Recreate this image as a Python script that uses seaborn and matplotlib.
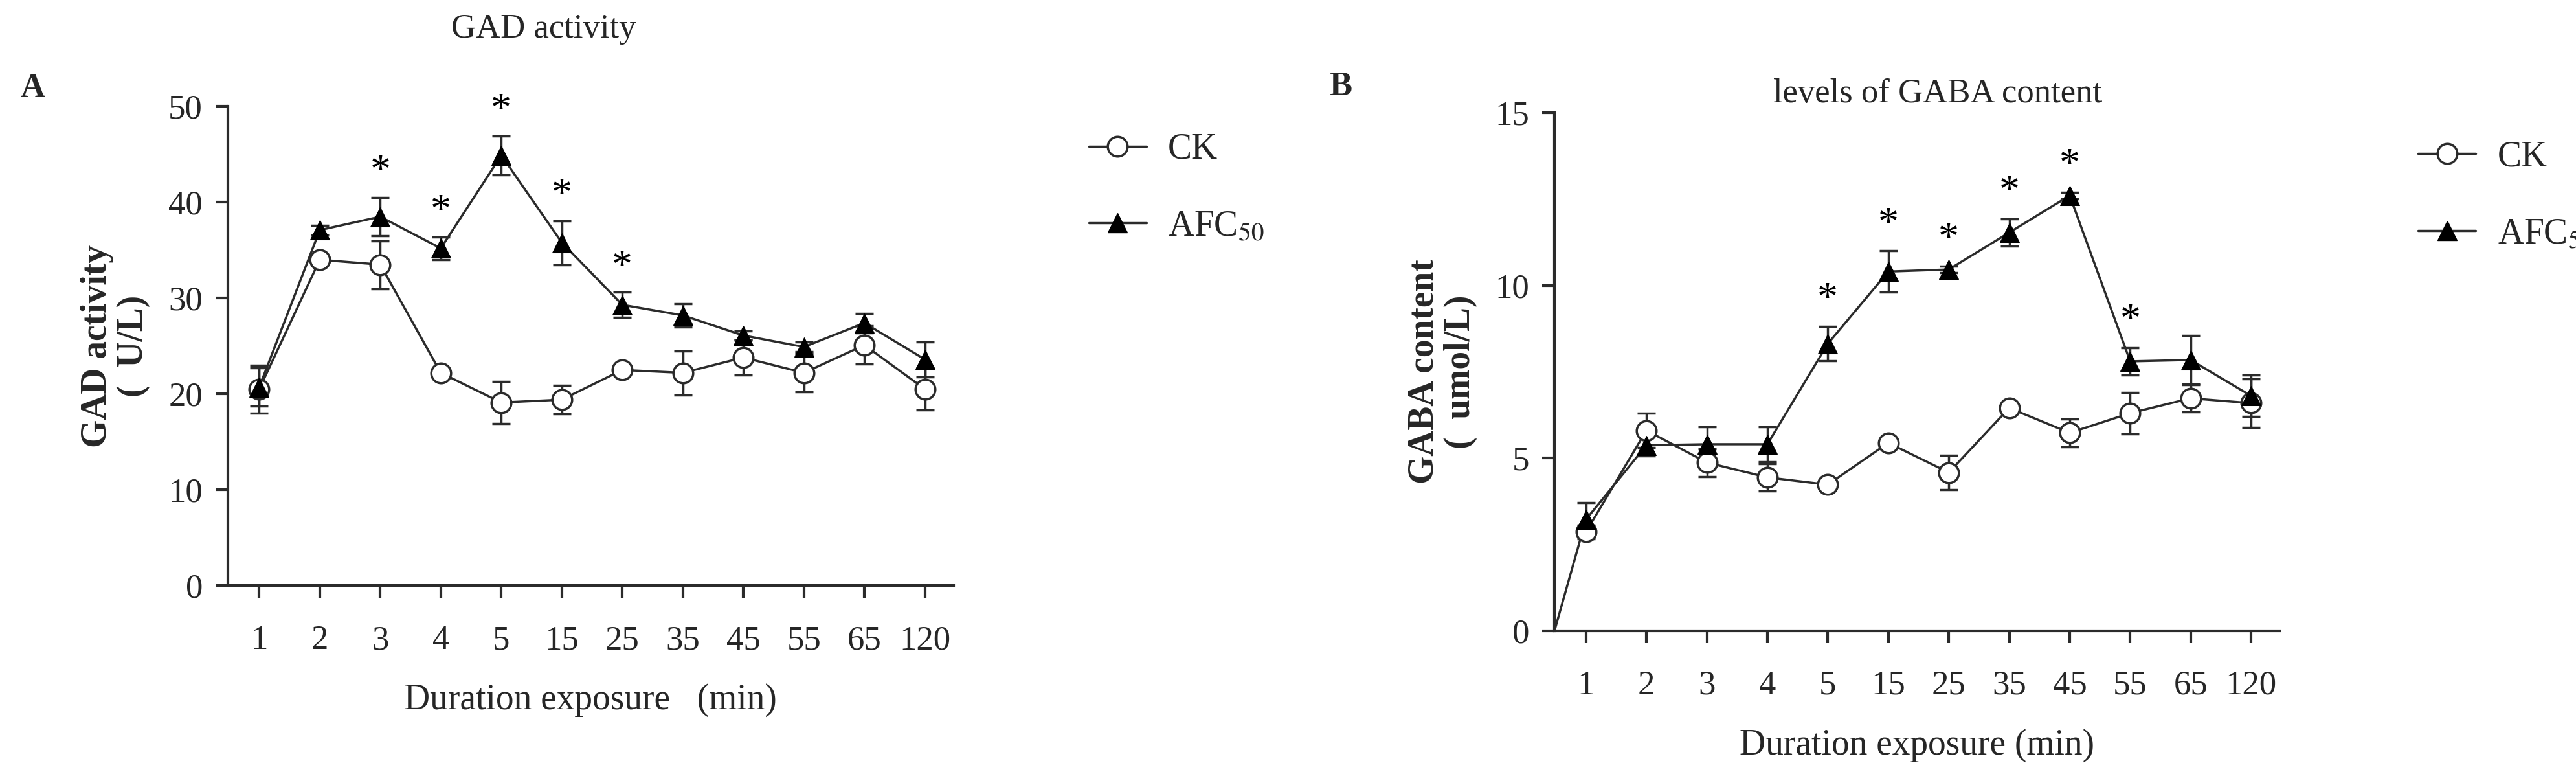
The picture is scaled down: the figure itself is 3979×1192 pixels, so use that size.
import numpy as np
import pandas as pd
import matplotlib
matplotlib.use("Agg")
import matplotlib.pyplot as plt
import seaborn as sns
from matplotlib.lines import Line2D

sns.set_theme(style="ticks")
plt.rcParams['font.family'] = ['Liberation Serif', 'DejaVu Serif']
plt.rcParams['mathtext.fontset'] = 'stix'

times = ["1", "2", "3", "4", "5", "15", "25", "35", "45", "55", "65", "120"]

gad_ck = [20.5, 34.0, 33.5, 22.2, 19.1, 19.4, 22.5, 22.2, 23.8, 22.2, 25.1, 20.5]
gad_ck_err = [2.5, 0.5, 2.5, 0.5, 2.2, 1.5, 0.5, 2.3, 1.8, 2.0, 2.0, 2.2]
gad_afc = [20.7, 37.1, 38.5, 35.2, 44.9, 35.8, 29.3, 28.2, 26.1, 24.9, 27.4, 23.6]
gad_afc_err = [2.0, 0.5, 2.0, 1.2, 2.0, 2.3, 1.3, 1.2, 0.5, 0.5, 1.0, 1.8]
gad_stars = ["3", "4", "5", "15", "25"]

gaba_ck = [2.86, 5.8, 4.87, 4.44, 4.23, 5.44, 4.58, 6.45, 5.73, 6.3, 6.73, 6.59]
gaba_ck_err = [0.2, 0.5, 0.4, 0.4, 0.1, 0.1, 0.5, 0.1, 0.4, 0.6, 0.4, 0.7]
gaba_afc = [3.22, 5.37, 5.4, 5.4, 8.31, 10.4, 10.46, 11.53, 12.6, 7.8, 7.84, 6.8]
gaba_afc_err = [0.5, 0.3, 0.5, 0.5, 0.5, 0.6, 0.1, 0.4, 0.1, 0.4, 0.7, 0.6]
gaba_stars = ["5", "15", "25", "35", "45", "55"]
gaba_origin = 0.0  # value at time 0

col = "#2b2b2b"
fig = plt.figure(figsize=(39.8, 11.92), dpi=100)
axA = fig.add_axes([0.0884, 0.2416, 0.2816, 0.6204])
axB = fig.add_axes([0.6033, 0.183, 0.2814, 0.671])

def panel(ax, ck, ckerr, afc, afcerr, stars, ymax, yticks, star_off):
    x = np.arange(len(times))
    df = pd.DataFrame({"x": np.concatenate([x, x]),
                       "y": ck + afc,
                       "g": ["CK"] * len(x) + ["AFC"] * len(x)})
    ax.errorbar(x, ck, yerr=ckerr, fmt="none", ecolor=col, elinewidth=2.5, capsize=10, capthick=2.5, zorder=2)
    ax.errorbar(x, afc, yerr=afcerr, fmt="none", ecolor=col, elinewidth=2.5, capsize=10, capthick=2.5, zorder=2)
    sns.lineplot(data=df[df.g == "CK"], x="x", y="y", ax=ax, color=col, lw=2.5, marker="o",
                 markersize=22, markerfacecolor="white", markeredgecolor=col, markeredgewidth=2.5, zorder=4)
    sns.lineplot(data=df[df.g == "AFC"], x="x", y="y", ax=ax, color=col, lw=2.5, marker="^",
                 markersize=22, markerfacecolor="black", markeredgecolor="black", zorder=5)
    for s in stars:
        i = times.index(s)
        ax.text(i, afc[i] + afcerr[i] + star_off, "*", ha="center", va="bottom", fontsize=46, color="black")
    ax.set_xlim(-0.52, 11.47)
    ax.set_ylim(0, ymax)
    ax.set_yticks(yticks)
    ax.set_xticks(x)
    ax.set_xticklabels(times)
    for sp in ["top", "right"]:
        ax.spines[sp].set_visible(False)
    for sp in ["left", "bottom"]:
        ax.spines[sp].set_linewidth(3)
        ax.spines[sp].set_color(col)
    ax.tick_params(axis="both", labelsize=38, width=3, length=14, color=col, pad=14)
    ax.tick_params(axis="x", pad=30)
    if ax.get_legend():
        ax.get_legend().remove()

panel(axA, gad_ck, gad_ck_err, gad_afc, gad_afc_err, gad_stars, 50, [0, 10, 20, 30, 40, 50], 0.6)
panel(axB, gaba_ck, gaba_ck_err, gaba_afc, gaba_afc_err, gaba_stars, 15, [0, 5, 10, 15], 0.2)
axB.plot([-0.52, 0], [gaba_origin, gaba_afc[0]], color=col, lw=2.5, zorder=3)

axA.set_xlabel("Duration exposure   (min)", fontsize=40, labelpad=30)
axB.set_xlabel("Duration exposure (min)", fontsize=40, labelpad=30)
axA.set_ylabel("GAD activity\n(  U/L)", fontsize=40, fontweight="bold", labelpad=20, linespacing=1.1)
axB.set_ylabel("GABA content\n(  umol/L)", fontsize=40, fontweight="bold", labelpad=20, linespacing=1.1)

fig.text(0.211, 0.962, "GAD activity", fontsize=38, ha="center", va="center")
fig.text(0.752, 0.878, "levels of GABA content", fontsize=38, ha="center", va="center")
fig.text(0.008, 0.885, "A", fontsize=38, fontweight="bold", va="center")
fig.text(0.516, 0.888, "B", fontsize=38, fontweight="bold", va="center")

handles = [Line2D([], [], color=col, lw=2.5, marker="o", markersize=22, markerfacecolor="white", markeredgewidth=2.5),
           Line2D([], [], color=col, lw=2.5, marker="^", markersize=22, markerfacecolor="black", markeredgecolor="black")]
labels = ["CK", "AFC$_{50}$"]
for xpos, ypos in [(0.41, 0.87), (0.926, 0.86)]:
    fig.legend(handles, labels, loc="upper left", bbox_to_anchor=(xpos, ypos), frameon=False,
               fontsize=40, handlelength=1.6, labelspacing=1.2, handletextpad=0.6)

fig.savefig("out.png", dpi=100)
